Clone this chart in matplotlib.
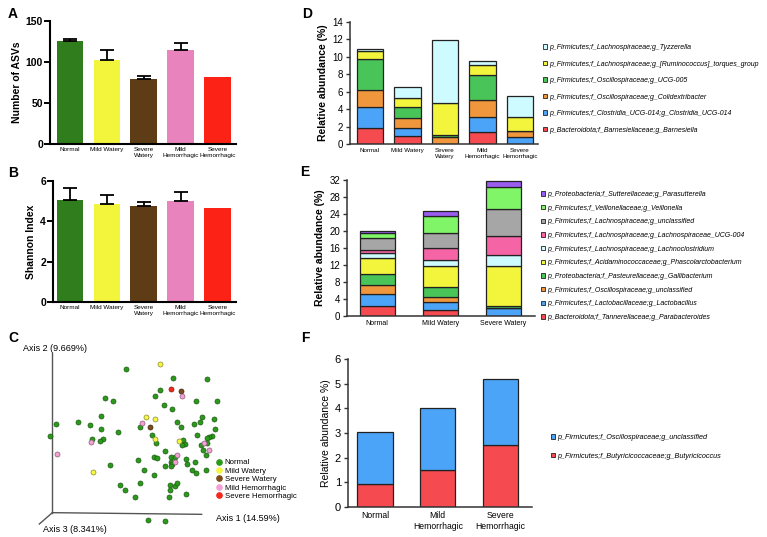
import numpy as np
import matplotlib
matplotlib.use('Agg')
import matplotlib.pyplot as plt
from matplotlib.patches import Patch
from matplotlib.lines import Line2D

plt.rcParams['font.family'] = ['Liberation Sans', 'DejaVu Sans']

W, H = 767, 537

#------------------------------------------------------------ data
groups = ['Normal', 'Mild Watery', 'Severe\nWatery', 'Mild\nHemorrhagic', 'Severe\nHemorrhagic']
group_colors = ['#2f7d1c', '#f2f53c', '#5e3d16', '#e883bd', '#fc2216']

asv_mean = [125, 103, 79, 115, 82]
asv_err = [3, 12, 4, 8, 0]
shannon_mean = [5.05, 4.85, 4.78, 5.0, 4.65]
shannon_err = [0.6, 0.45, 0.2, 0.45, 0]

# PCoA scores (projected onto the 3D view)
pc_normal_x = [378, 520, 620, 481, 466, 314, 338, 589, 650, 493, 517, 304, 233, 168, 270, 605, 641, 601, 530, 582,
               420, 544, 304, 644, 353, 455, 591, 637, 628, 622, 151, 276, 310, 299, 549, 469, 555, 546, 602, 621,
               608, 494, 618, 462, 470, 512, 525, 414, 557, 585, 512, 515, 331, 495, 514, 561, 576, 432, 588, 617,
               461, 511, 524, 532, 420, 359, 374, 510, 558, 405, 506, 443, 494]
pc_normal_y = [148, 173, 178, 209, 229, 234, 243, 243, 242, 255, 267, 288, 305, 312, 315, 292, 296, 305, 306, 311,
               322, 322, 327, 328, 337, 344, 346, 347, 352, 354, 348, 356, 357, 362, 360, 368, 372, 376, 376, 369,
               391, 393, 406, 411, 414, 412, 412, 419, 417, 425, 425, 431, 436, 437, 438, 433, 450, 451, 460, 449,
               466, 494, 497, 490, 489, 495, 511, 509, 522, 530, 532, 600, 602]
pc_mw_x = [481, 439, 465, 464, 538, 279]
pc_mw_y = [132, 291, 296, 357, 362, 455]
pc_sw_x = [544, 449]
pc_sw_y = [214, 320]
pc_mh_x = [547, 426, 272, 612, 627, 530, 524, 171]
pc_mh_y = [228, 308, 366, 368, 389, 405, 426, 403]
pc_sh_x = [513]
pc_sh_y = [207]

d_groups = ['Normal', 'Mild Watery', 'Severe\nWatery', 'Mild\nHemorrhagic', 'Severe\nHemorrhagic']
d_barnesiella = [1.8, 0.88, 0.02, 1.34, 0.05]
d_clostridia = [2.48, 0.92, 0.03, 1.72, 0.79]
d_colidextribacter = [1.92, 1.15, 0.72, 1.99, 0.61]
d_ucg005 = [3.6, 1.25, 0.26, 2.83, 0.03]
d_torques = [0.83, 1.04, 3.64, 1.19, 1.58]
d_tyzzerella = [0.23, 1.3, 7.23, 0.46, 2.49]
d_labels = ['p_Bacteroidota;f_Barnesiellaceae;g_Barnesiella',
            'p_Firmicutes;f_Clostridia_UCG-014;g_Clostridia_UCG-014',
            'p_Firmicutes;f_Oscillospiraceae;g_Colidextribacter',
            'p_Firmicutes;f_Oscillospiraceae;g_UCG-005',
            'p_Firmicutes;f_Lachnospiraceae;g_[Ruminococcus]_torques_group',
            'p_Firmicutes;f_Lachnospiraceae;g_Tyzzerella']

e_groups = ['Normal', 'Mild Watery', 'Severe Watery']
e_parabacteroides = [2.28, 1.34, 0.1]
e_lactobacillus = [2.99, 2.04, 1.79]
e_oscillo_uncl = [2.13, 1.18, 0.1]
e_gallibacterium = [2.43, 2.36, 0.37]
e_phascolarcto = [3.85, 4.95, 9.34]
e_lachnoclostridium = [1.18, 1.33, 2.7]
e_lachno_ucg004 = [0.63, 2.9, 4.4]
e_lachno_uncl = [2.75, 3.48, 6.3]
e_veillonella = [1.34, 3.85, 5.3]
e_parasutterella = [0.39, 1.17, 1.4]
e_labels = ['p_Bacteroidota;f_Tannerellaceae;g_Parabacteroides',
            'p_Firmicutes;f_Lactobacillaceae;g_Lactobacillus',
            'p_Firmicutes;f_Oscillospiraceae;g_unclassified',
            'p_Proteobacteria;f_Pasteurellaceae;g_Gallibacterium',
            'p_Firmicutes;f_Acidaminococcaceae;g_Phascolarctobacterium',
            'p_Firmicutes;f_Lachnospiraceae;g_Lachnoclostridium',
            'p_Firmicutes;f_Lachnospiraceae;g_Lachnospiraceae_UCG-004',
            'p_Firmicutes;f_Lachnospiraceae;g_unclassified',
            'p_Firmicutes;f_Veillonellaceae;g_Veillonella',
            'p_Proteobacteria;f_Sutterellaceae;g_Parasutterella']

f_groups = ['Normal', 'Mild\nHemorrhagic', 'Severe\nHemorrhagic']
f_butyricicoccus = [0.92, 1.48, 2.53]
f_oscillo_uncl = [2.11, 2.53, 2.65]
f_labels = ['p_Firmicutes;f_Butyricicoccaceae;g_Butyricicoccus',
            'p_Firmicutes;f_Oscillospiraceae;g_unclassified']

c_red = '#f54a50'
c_blue = '#4ba4f7'
c_orange = '#f0963c'
c_green = '#48c458'
c_yellow = '#f2f53c'
c_cyan = '#cdfbff'
c_pink = '#f565a5'
c_gray = '#a6a6a6'
c_lgreen = '#80f568'
c_purple = '#9b5cf0'


def px(l, t, r, b):
    return [l / W, 1 - b / H, (r - l) / W, (b - t) / H]


fig = plt.figure(figsize=(W / 100, H / 100), dpi=100)

#------------------------------------------------------------ A and B
def diversity_panel(rect, means, errs, ylim, yticks, ylabel, xlim):
    ax = fig.add_axes(rect)
    x = np.arange(len(means))
    ax.bar(x, means, width=0.72, color=group_colors)
    for i in range(len(means)):
        if errs[i] > 0:
            ax.errorbar(x[i], means[i], yerr=[[0], [errs[i]]], color='black', lw=1.3,
                        capsize=5, capthick=1.3)
    ax.set_ylim(*ylim)
    ax.set_yticks(yticks)
    ax.set_xlim(*xlim)
    ax.set_xticks(x)
    ax.set_xticklabels(groups, fontsize=4.6)
    ax.tick_params(axis='x', length=0, pad=2.5)
    ax.tick_params(axis='y', length=4, width=1.4, labelsize=7.5, pad=1)
    for lab in ax.get_yticklabels():
        lab.set_fontweight('bold')
    for s in ['top', 'right']:
        ax.spines[s].set_visible(False)
    for s in ['left', 'bottom']:
        ax.spines[s].set_linewidth(1.5)
    ax.set_ylabel(ylabel, fontsize=7.5, fontweight='bold', labelpad=3)
    return ax

diversity_panel(px(50, 21, 236, 144), asv_mean, asv_err, (0, 150), [0, 50, 100, 150],
                'Number of ASVs', (-0.54, 4.5))
diversity_panel(px(53, 181, 236, 302), shannon_mean, shannon_err, (0, 6), [0, 2, 4, 6],
                'Shannon Index', (-0.46, 4.5))

#------------------------------------------------------------ C (PCoA)
axc = fig.add_axes(px(0, 320, 320, 537))
axc.set_xlim(0, 960)
axc.set_ylim(651, 0)
axc.axis('off')
axc.plot([157, 157], [100, 578], color='#555555', lw=1)
axc.plot([157, 605], [578, 583], color='#555555', lw=1)
axc.plot([157, 118], [578, 612], color='#555555', lw=1)
axc.text(68, 85, 'Axis 2 (9.669%)', fontsize=6.5, va='center', ha='left')
axc.text(648, 595, 'Axis 1 (14.59%)', fontsize=6.5, va='center', ha='left')
axc.text(130, 628, 'Axis 3 (8.341%)', fontsize=6.5, va='center', ha='left')

scat = [(pc_normal_x, pc_normal_y, '#2b9a1c', '#1d5a12', 'Normal'),
        (pc_mw_x, pc_mw_y, '#f5f545', '#8a8a30', 'Mild Watery'),
        (pc_sw_x, pc_sw_y, '#7b4c1c', '#3d2610', 'Severe Watery'),
        (pc_mh_x, pc_mh_y, '#f2a2d2', '#8a5a78', 'Mild Hemorrhagic'),
        (pc_sh_x, pc_sh_y, '#f5281c', '#8a1a10', 'Severe Hemorrhagic')]
handles = []
for xs, ys, fc, ec, lab in scat:
    axc.scatter(xs, ys, s=13, color=fc, edgecolors=ec, linewidths=0.5, zorder=3)
    handles.append(Line2D([], [], ls='none', marker='o', markersize=3.8, markerfacecolor=fc,
                          markeredgecolor=fc, label=lab))
axc.legend(handles=handles, loc='upper left', bbox_to_anchor=(216 / W, 1 - 459 / H),
           bbox_transform=fig.transFigure, frameon=False, fontsize=5.6, handlelength=0.8,
           handletextpad=0.3, labelspacing=0.12, borderpad=0, borderaxespad=0)

#------------------------------------------------------------ D, E, F
def stacked_panel(rect, xlim, cats, series, colors, labels, ylim, yticks, ylabel,
                  xfs, yfs, ylbold, width, leg_xy, leg_fs, leg_sp):
    ax = fig.add_axes(rect)
    x = np.arange(len(cats))
    bottom = np.zeros(len(cats))
    handles = []
    for vals, col, lab in zip(series, colors, labels):
        ax.bar(x, vals, width=width, bottom=bottom, color=col, edgecolor='#222222', linewidth=0.9)
        bottom += np.array(vals)
        handles.append(Patch(facecolor=col, edgecolor='#222222', linewidth=0.6, label=lab))
    ax.set_xlim(*xlim)
    ax.set_ylim(*ylim)
    ax.set_yticks(yticks)
    ax.set_xticks(x)
    ax.set_xticklabels(cats, fontsize=xfs)
    ax.tick_params(axis='x', length=0, pad=3)
    ax.tick_params(axis='y', length=3, width=1, labelsize=yfs, pad=2, color='#333333')
    for s in ['top', 'right']:
        ax.spines[s].set_visible(False)
    for s in ['left', 'bottom']:
        ax.spines[s].set_linewidth(1.1)
        ax.spines[s].set_color('#333333')
    ax.set_ylabel(ylabel, fontsize=7.5, fontweight='bold' if ylbold else 'normal', labelpad=3)
    ax.legend(handles=handles[::-1], loc='upper left', bbox_to_anchor=leg_xy,
              bbox_transform=fig.transFigure, frameon=False,
              prop={'size': leg_fs, 'style': 'italic'}, handlelength=0.6, handleheight=0.6,
              handletextpad=0.25, labelspacing=leg_sp, borderpad=0, borderaxespad=0)
    return ax

stacked_panel(px(350, 22, 538, 144), (-0.53, 4.48), d_groups,
              [d_barnesiella, d_clostridia, d_colidextribacter, d_ucg005, d_torques, d_tyzzerella],
              [c_red, c_blue, c_orange, c_green, c_yellow, c_cyan], d_labels,
              (0, 14), np.arange(0, 15, 2), 'Relative abundance (%)', 4.5, 7, True, 0.7,
              (543 / W, 1 - 44 / H), 5.05, 1.36)

stacked_panel(px(347, 180, 535, 316), (-0.48, 2.5), e_groups,
              [e_parabacteroides, e_lactobacillus, e_oscillo_uncl, e_gallibacterium, e_phascolarcto,
               e_lachnoclostridium, e_lachno_ucg004, e_lachno_uncl, e_veillonella, e_parasutterella],
              [c_red, c_blue, c_orange, c_green, c_yellow, c_cyan, c_pink, c_gray, c_lgreen, c_purple],
              e_labels, (0, 32), np.arange(0, 33, 4), 'Relative abundance (%)', 5, 7, True, 0.56,
              (541 / W, 1 - 191 / H), 5, 0.96)

stacked_panel(px(348, 359, 532, 507), (-0.43, 2.5), f_groups,
              [f_butyricicoccus, f_oscillo_uncl], [c_red, c_blue], f_labels,
              (0, 6), np.arange(0, 7, 1), 'Relative abundance %)', 6.2, 8, False, 0.56,
              (551 / W, 1 - 434 / H), 5.2, 1.6)

#------------------------------------------------------------ panel letters
for lab, xp, yp in [('A', 13, 14), ('B', 13, 173), ('C', 13, 338),
                    ('D', 307, 14), ('E', 305, 172), ('F', 305, 338)]:
    fig.text(xp / W, 1 - yp / H, lab, fontsize=10, fontweight='bold', ha='center', va='center')

fig.savefig('out.png', dpi=100)
